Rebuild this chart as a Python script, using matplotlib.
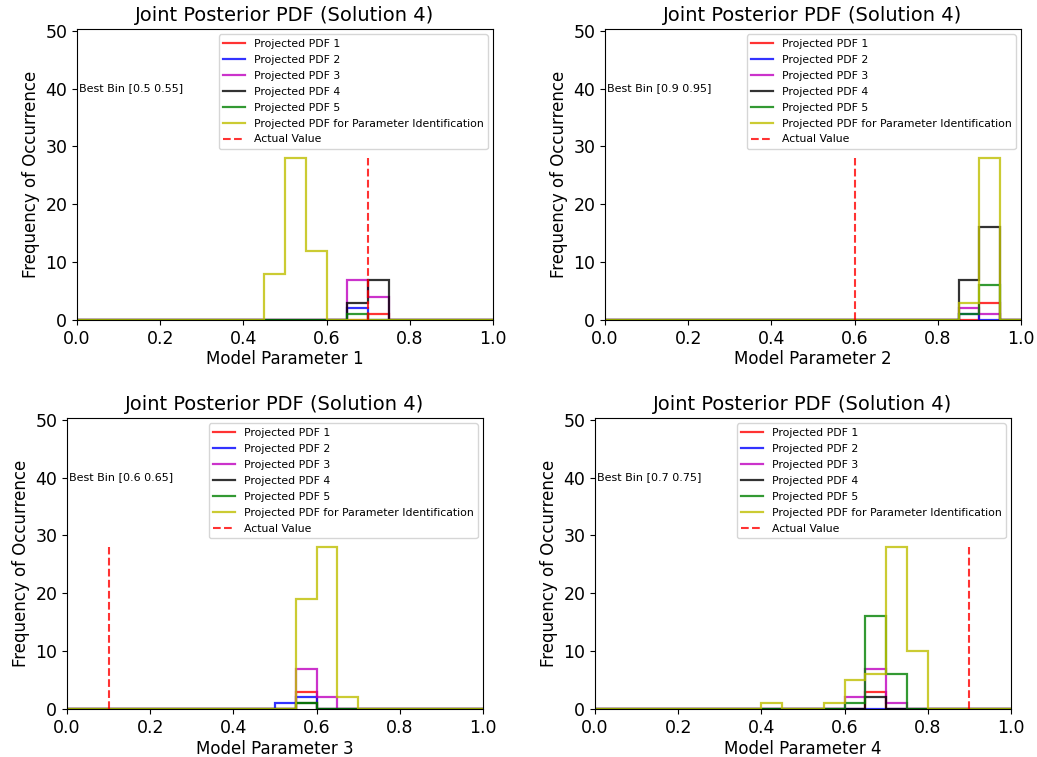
import numpy as np
import matplotlib
matplotlib.use("Agg")
import matplotlib.pyplot as plt

plt.rcParams.update({
    "font.family": "DejaVu Sans",
    "xtick.labelsize": 12.5,
    "ytick.labelsize": 12.5,
})

# bins of width 0.05 between 0 and 1
bin_edges = np.round(np.arange(0, 1.0001, 0.05), 2)

series_labels = ["Projected PDF 1", "Projected PDF 2", "Projected PDF 3",
                 "Projected PDF 4", "Projected PDF 5",
                 "Projected PDF for Parameter Identification"]
series_colors = ["r", "b", "m", "k", "g", "y"]

# counts per bin (bin left edge -> count), one dict per series
p1_counts = [
    {0.70: 1},
    {0.65: 2},
    {0.65: 7, 0.70: 4},
    {0.65: 3, 0.70: 7},
    {0.65: 1},
    {0.45: 8, 0.50: 28, 0.55: 12},
]
p2_counts = [
    {0.90: 3},
    {0.85: 1},
    {0.85: 2, 0.90: 1},
    {0.85: 7, 0.90: 16},
    {0.85: 1, 0.90: 6},
    {0.85: 3, 0.90: 28},
]
p3_counts = [
    {0.55: 3},
    {0.50: 1, 0.55: 2},
    {0.55: 7, 0.60: 2},
    {0.55: 1},
    {0.55: 1},
    {0.55: 19, 0.60: 28, 0.65: 2},
]
p4_counts = [
    {0.65: 3},
    {},
    {0.60: 2, 0.65: 7, 0.70: 1},
    {0.65: 2},
    {0.60: 1, 0.65: 16, 0.70: 6},
    {0.40: 1, 0.55: 1, 0.60: 5, 0.65: 6, 0.70: 28, 0.75: 10},
]

actual_values = [0.7, 0.6, 0.1, 0.9]
best_bins = ["[0.5 0.55]", "[0.9 0.95]", "[0.6 0.65]", "[0.7 0.75]"]
param_names = ["Model Parameter 1", "Model Parameter 2",
               "Model Parameter 3", "Model Parameter 4"]
all_counts = [p1_counts, p2_counts, p3_counts, p4_counts]

W, H = 1037, 757
# axes boxes in pixels: left, top, right, bottom
boxes = [(77, 29, 493, 320), (605, 29, 1021, 320),
         (67, 418, 483, 709), (595, 418, 1011, 709)]

fig = plt.figure(figsize=(W / 100, H / 100), dpi=100)

for box, counts, actual, best, pname in zip(boxes, all_counts, actual_values, best_bins, param_names):
    l, t, r, b = box
    ax = fig.add_axes([l / W, (H - b) / H, (r - l) / W, (b - t) / H])

    for cdict, color, label in zip(counts, series_colors, series_labels):
        vals = np.zeros(len(bin_edges) - 1)
        for left, c in cdict.items():
            idx = int(round(left / 0.05))
            vals[idx] = c
        ax.stairs(vals, bin_edges, color=color, linewidth=1.6, alpha=0.8, label=label)

    top = max(counts[-1].values())
    ax.plot([actual, actual], [0, top], "r--", linewidth=1.5, alpha=0.8, label="Actual Value")

    ax.text(0.006, 40, "Best Bin " + best, fontsize=8, va="center", ha="left")

    ax.set_xlim(0, 1)
    ax.set_ylim(0, 50.3)
    ax.set_xticks(np.arange(0, 1.01, 0.2))
    ax.set_yticks(np.arange(0, 51, 10))
    ax.set_title("Joint Posterior PDF (Solution 4)", fontsize=14)
    ax.set_xlabel(pname, fontsize=12, labelpad=2)
    ax.set_ylabel("Frequency of Occurrence", fontsize=12)
    ax.legend(loc="upper right", fontsize=7.8, labelspacing=0.55, handlelength=2.0)

fig.savefig("out.png", dpi=100)
